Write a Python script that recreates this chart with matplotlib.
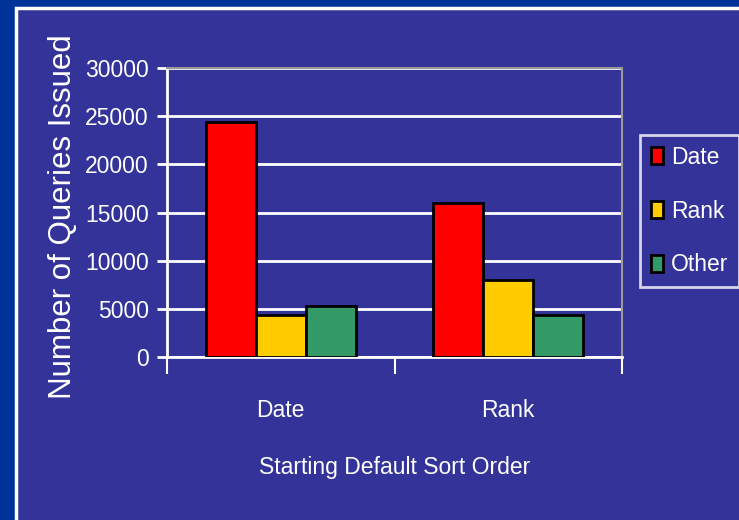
import matplotlib.pyplot as plt
import numpy as np
from matplotlib.patches import Rectangle

# Datos
categorias = ['Date', 'Rank']
series = ['Date', 'Rank', 'Other']
valores_date = [24400, 16000]
valores_rank = [4400, 8000]
valores_other = [5300, 4400]
colores = ['#ff0000', '#ffcc00', '#339966']

fondo = '#003399'
panel = '#333399'
arial = ['Liberation Sans', 'DejaVu Sans']

fig = plt.figure(figsize=(7.39, 5.2), dpi=100, facecolor=fondo)
fig.add_artist(Rectangle((16 / 739, -0.01), 1.0, 1 - 8 / 520 + 0.01,
                         transform=fig.transFigure, facecolor=panel,
                         edgecolor='white', lw=2.5, zorder=-10))

ax = fig.add_axes([167 / 739, 1 - 357 / 520, 455 / 739, 289 / 520])
ax.set_facecolor(panel)

x = np.arange(len(categorias))
ancho = 0.22
for i, (nombre, vals) in enumerate(zip(series, [valores_date, valores_rank, valores_other])):
    ax.bar(x + (i - 1) * ancho, vals, ancho, color=colores[i], edgecolor='black',
           lw=2, label=nombre, zorder=3)

ax.set_xlim(-0.5, 1.5)
ax.set_ylim(0, 30000)
ax.set_yticks(np.arange(0, 30001, 5000))
ax.yaxis.grid(True, color='white', lw=2, zorder=0)
ax.set_axisbelow(True)

ax.set_xticks(x)
ax.set_xticklabels(categorias, fontsize=16.5, color='white', family=arial)
ax.set_xticks([-0.5, 0.5, 1.5], minor=True)
ax.tick_params(axis='x', which='major', length=0, pad=30)
ax.tick_params(axis='x', which='minor', length=12, width=1.5, color='white', direction='out')
ax.tick_params(axis='y', length=7, width=2, color='white', pad=6)
for t in ax.get_yticklabels():
    t.set_fontsize(16.5)
    t.set_color('white')
    t.set_family(arial)

for lado in ['top', 'right']:
    ax.spines[lado].set_color('#999999')
    ax.spines[lado].set_linewidth(1.5)
for lado in ['left', 'bottom']:
    ax.spines[lado].set_color('white')
    ax.spines[lado].set_linewidth(2)

ax.set_xlabel('Starting Default Sort Order', fontsize=16.5, color='white', family=arial, labelpad=25)
fig.text(63 / 739, 1 - 217 / 520, 'Number of Queries Issued', rotation=90, fontsize=22.5,
         color='white', family=arial, ha='center', va='center')

leg = ax.legend(loc='center', bbox_to_anchor=(689.5 / 739, 1 - 211 / 520),
                bbox_transform=fig.transFigure, frameon=True, fancybox=False,
                handlelength=0.55, handleheight=0.75, handletextpad=0.35,
                labelspacing=1.34, borderpad=0.45, prop={'family': arial, 'size': 16.5})
leg.get_frame().set_facecolor(panel)
leg.get_frame().set_edgecolor('white')
leg.get_frame().set_linewidth(2)
for t in leg.get_texts():
    t.set_color('white')

fig.savefig('out.png', dpi=100, facecolor=fondo)
